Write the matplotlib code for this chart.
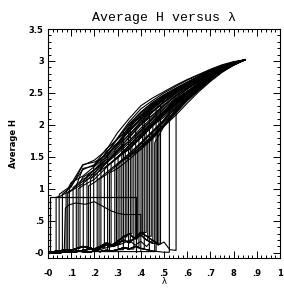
import numpy as np
import matplotlib
matplotlib.use("Agg")
import matplotlib.pyplot as plt
from matplotlib.ticker import MultipleLocator, FixedLocator

# lambda grid for the upper (ordered) branches
lam_grid = [0.05, 0.10, 0.15, 0.20, 0.25, 0.30, 0.35, 0.40, 0.45,
            0.50, 0.55, 0.60, 0.65, 0.70, 0.75, 0.80, 0.85]

# where each run collapses, and H at the top of the collapse
lam_drop = [0.035, 0.048, 0.062, 0.078, 0.092, 0.108, 0.122, 0.138, 0.152,
            0.168, 0.183, 0.197, 0.212, 0.228, 0.243, 0.257, 0.272, 0.288,
            0.302, 0.318, 0.333, 0.347, 0.362, 0.378, 0.392, 0.408, 0.423,
            0.437, 0.452, 0.466, 0.478, 0.523, 0.552,
            0.085, 0.130, 0.175, 0.220, 0.265, 0.295, 0.310, 0.325, 0.340,
            0.355, 0.370, 0.385, 0.401, 0.415, 0.430, 0.445, 0.460, 0.472, 0.485]
h_drop = [0.87, 0.90, 0.92, 0.95, 1.00, 1.02, 1.05, 1.10, 1.12,
          1.20, 1.15, 1.35, 1.25, 1.45, 1.30, 1.55, 1.40, 1.62,
          1.50, 1.75, 1.60, 1.85, 1.70, 1.95, 1.80, 2.05, 1.90,
          2.20, 2.00, 2.25, 2.10, 2.30, 2.38,
          0.93, 1.00, 1.05, 1.15, 1.25, 1.35, 1.42, 1.90, 1.45,
          2.00, 1.55, 1.62, 1.68, 2.15, 1.75, 1.85, 1.72, 1.95, 2.30]

# H of each run on the last points of lam_grid (ending at 0.85)
h_upper = [
    [0.88, 0.98, 1.12, 1.30, 1.45, 1.62, 1.80, 2.00, 2.15, 2.30, 2.45, 2.58, 2.70, 2.80, 2.90, 2.97, 3.02],
    [0.92, 1.05, 1.30, 1.38, 1.55, 1.80, 2.05, 2.25, 2.38, 2.50, 2.60, 2.70, 2.78, 2.86, 2.93, 2.98, 3.02],
    [1.03, 1.37, 1.45, 1.60, 1.88, 2.10, 2.30, 2.42, 2.52, 2.62, 2.71, 2.79, 2.87, 2.94, 2.99, 3.02],
    [1.10, 1.20, 1.35, 1.50, 1.70, 1.95, 2.15, 2.30, 2.45, 2.56, 2.66, 2.75, 2.84, 2.92, 2.97, 3.02],
    [1.08, 1.38, 1.42, 1.52, 1.72, 1.90, 2.10, 2.28, 2.42, 2.55, 2.65, 2.74, 2.83, 2.91, 2.97, 3.02],
    [1.15, 1.25, 1.48, 1.65, 1.85, 2.05, 2.25, 2.40, 2.52, 2.63, 2.73, 2.82, 2.90, 2.96, 3.02],
    [1.32, 1.36, 1.55, 1.78, 2.02, 2.20, 2.35, 2.47, 2.57, 2.67, 2.76, 2.85, 2.92, 2.98, 3.02],
    [1.18, 1.30, 1.42, 1.60, 1.75, 1.95, 2.12, 2.30, 2.45, 2.58, 2.70, 2.80, 2.89, 2.96, 3.02],
    [1.20, 1.40, 1.58, 1.82, 2.00, 2.20, 2.36, 2.50, 2.62, 2.72, 2.81, 2.90, 2.96, 3.02],
    [1.30, 1.50, 1.70, 1.90, 2.10, 2.28, 2.42, 2.55, 2.66, 2.75, 2.84, 2.91, 2.97, 3.02],
    [1.22, 1.35, 1.50, 1.68, 1.85, 2.02, 2.20, 2.38, 2.52, 2.64, 2.76, 2.87, 2.95, 3.02],
    [1.38, 1.62, 1.78, 1.95, 2.15, 2.32, 2.45, 2.56, 2.66, 2.75, 2.84, 2.91, 2.97, 3.02],
    [1.40, 1.55, 1.72, 1.90, 2.08, 2.25, 2.40, 2.53, 2.65, 2.76, 2.86, 2.95, 3.02],
    [1.58, 1.72, 1.98, 2.18, 2.33, 2.46, 2.57, 2.67, 2.76, 2.85, 2.92, 2.97, 3.02],
    [1.35, 1.48, 1.65, 1.82, 2.00, 2.18, 2.35, 2.50, 2.63, 2.75, 2.86, 2.95, 3.02],
    [1.70, 1.92, 2.10, 2.28, 2.42, 2.54, 2.65, 2.74, 2.83, 2.91, 2.97, 3.02],
    [1.50, 1.68, 1.88, 2.05, 2.22, 2.38, 2.52, 2.64, 2.76, 2.86, 2.95, 3.02],
    [1.68, 1.85, 2.02, 2.20, 2.36, 2.50, 2.62, 2.73, 2.83, 2.91, 2.97, 3.02],
    [1.62, 1.80, 1.98, 2.15, 2.32, 2.47, 2.60, 2.72, 2.83, 2.93, 3.02],
    [1.95, 2.15, 2.30, 2.42, 2.53, 2.63, 2.72, 2.81, 2.89, 2.96, 3.02],
    [1.68, 1.85, 2.05, 2.22, 2.38, 2.52, 2.64, 2.75, 2.85, 2.94, 3.02],
    [1.90, 2.08, 2.25, 2.40, 2.52, 2.62, 2.72, 2.81, 2.89, 2.96, 3.02],
    [1.80, 1.98, 2.16, 2.33, 2.48, 2.62, 2.74, 2.85, 2.94, 3.02],
    [2.05, 2.22, 2.37, 2.50, 2.61, 2.71, 2.80, 2.88, 2.95, 3.02],
    [1.85, 2.02, 2.20, 2.36, 2.50, 2.63, 2.75, 2.86, 2.95, 3.02],
    [2.15, 2.32, 2.46, 2.58, 2.69, 2.79, 2.88, 2.95, 3.02],
    [2.00, 2.18, 2.35, 2.50, 2.63, 2.75, 2.86, 2.95, 3.02],
    [2.28, 2.42, 2.54, 2.65, 2.75, 2.84, 2.91, 2.97, 3.02],
    [2.12, 2.30, 2.47, 2.61, 2.74, 2.86, 2.95, 3.02],
    [2.35, 2.48, 2.60, 2.70, 2.80, 2.88, 2.95, 3.02],
    [2.20, 2.36, 2.52, 2.65, 2.77, 2.87, 2.95, 3.02],
    [2.42, 2.56, 2.68, 2.78, 2.87, 2.95, 3.02],
    [2.52, 2.66, 2.77, 2.87, 2.95, 3.02],
    [0.97, 1.08, 1.25, 1.42, 1.58, 1.75, 1.92, 2.10, 2.27, 2.42, 2.56, 2.68, 2.79, 2.88, 2.95, 3.02],
    [1.05, 1.15, 1.33, 1.50, 1.62, 1.80, 2.00, 2.18, 2.35, 2.50, 2.63, 2.75, 2.86, 2.95, 3.02],
    [1.10, 1.25, 1.40, 1.55, 1.72, 1.90, 2.08, 2.26, 2.42, 2.58, 2.72, 2.85, 2.95, 3.02],
    [1.22, 1.38, 1.52, 1.70, 1.88, 2.05, 2.22, 2.40, 2.56, 2.70, 2.84, 2.94, 3.02],
    [1.32, 1.46, 1.62, 1.80, 1.98, 2.15, 2.34, 2.52, 2.68, 2.82, 2.94, 3.02],
    [1.38, 1.55, 1.72, 1.90, 2.08, 2.26, 2.44, 2.60, 2.74, 2.86, 2.95, 3.02],
    [1.50, 1.66, 1.84, 2.02, 2.22, 2.40, 2.56, 2.72, 2.85, 2.95, 3.02],
    [2.00, 2.20, 2.35, 2.47, 2.57, 2.66, 2.75, 2.83, 2.90, 2.96, 3.02],
    [1.52, 1.65, 1.80, 2.00, 2.20, 2.38, 2.54, 2.70, 2.84, 2.94, 3.02],
    [2.12, 2.30, 2.44, 2.55, 2.65, 2.74, 2.83, 2.90, 2.96, 3.02],
    [1.62, 1.78, 1.98, 2.18, 2.38, 2.55, 2.70, 2.84, 2.94, 3.02],
    [1.66, 1.82, 2.00, 2.20, 2.40, 2.57, 2.72, 2.85, 2.95, 3.02],
    [1.80, 1.98, 2.20, 2.42, 2.60, 2.74, 2.86, 2.95, 3.02],
    [2.25, 2.40, 2.52, 2.63, 2.73, 2.82, 2.90, 2.96, 3.02],
    [1.82, 2.00, 2.22, 2.45, 2.62, 2.76, 2.87, 2.95, 3.02],
    [1.88, 2.06, 2.28, 2.48, 2.64, 2.77, 2.88, 2.96, 3.02],
    [1.98, 2.25, 2.47, 2.63, 2.76, 2.87, 2.95, 3.02],
    [2.08, 2.32, 2.52, 2.66, 2.78, 2.88, 2.96, 3.02],
    [2.40, 2.52, 2.62, 2.72, 2.81, 2.89, 2.96, 3.02],
]

# disordered branches near H = 0
lam_base = [0.0, 0.025, 0.05, 0.075, 0.10, 0.125, 0.15, 0.175, 0.20, 0.225, 0.25, 0.275,
            0.30, 0.325, 0.35, 0.375, 0.40, 0.425, 0.45, 0.475, 0.50, 0.525, 0.55]
base_a = [0.00, 0.01, 0.00, 0.02, 0.01, 0.03, 0.02, 0.01, 0.03, 0.02, 0.04, 0.03,
          0.05, 0.08, 0.06, 0.10, 0.07, 0.05, 0.03, 0.02, 0.01, 0.02, 0.00]
base_b = [0.02, 0.02, 0.03, 0.05, 0.04, 0.07, 0.10, 0.08, 0.06, 0.10, 0.15, 0.12,
          0.18, 0.25, 0.30, 0.22, 0.28, 0.20, 0.15, 0.10, 0.06, 0.04, 0.03]
base_c = [0.00, 0.00, 0.01, 0.01, 0.02, 0.02, 0.04, 0.06, 0.05, 0.08, 0.12, 0.10,
          0.14, 0.20, 0.16, 0.24, 0.32, 0.26, 0.20, 0.14, 0.10, 0.06, 0.04]
base_d = [0.02, 0.02, 0.02, 0.02, 0.02, 0.02, 0.02, 0.02, 0.02, 0.02, 0.02, 0.02,
          0.02, 0.02, 0.02, 0.02, 0.02, 0.02, 0.02, 0.02, 0.02, 0.02, 0.02]
base_e = [0.00, 0.01, 0.02, 0.01, 0.03, 0.02, 0.04, 0.05, 0.06, 0.05, 0.08, 0.10,
          0.12, 0.15, 0.20, 0.12, 0.18, 0.10, 0.20, 0.12, 0.17, 0.05, 0.04]
base_of_run = "abcabcabcabcabcabcabcabcabcabdcae" + "cabcabcabcabcabcabc"

# run stuck at intermediate H, and the flat run at H ~ 0.87
mid_lam = [0.0, 0.07, 0.075, 0.09, 0.12, 0.16, 0.20, 0.24, 0.27, 0.30, 0.33, 0.36, 0.40, 0.40]
mid_h = [0.02, 0.02, 0.70, 0.75, 0.78, 0.76, 0.80, 0.72, 0.66, 0.62, 0.60, 0.60, 0.60, 0.03]
flat_lam = [0.0, 0.01, 0.01, 0.38, 0.38]
flat_h = [0.0, 0.0, 0.87, 0.87, 0.02]

bases = {"a": base_a, "b": base_b, "c": base_c, "d": base_d, "e": base_e}

fig = plt.figure(figsize=(2.84, 2.88), dpi=100)
ax = fig.add_axes([48/284, 1-258/288, 232/284, 229/288])

lw = 0.8
for i in range(len(lam_drop)):
    lc = lam_drop[i]
    b = bases[base_of_run[i]]
    xs = [l for l in lam_base if l < lc]
    ys = b[:len(xs)]
    up = h_upper[i]
    x = xs + [lc, lc] + lam_grid[-len(up):]
    y = ys + [ys[-1], h_drop[i]] + up
    ax.plot(x, y, color="black", lw=lw)

ax.plot(mid_lam, mid_h, color="black", lw=lw)
ax.plot(flat_lam, flat_h, color="black", lw=0.9)

ax.set_xlim(0, 1)
ax.set_ylim(-0.08, 3.5)

ax.xaxis.set_major_locator(FixedLocator([0, .1, .2, .3, .4, .5, .6, .7, .8, .9, 1]))
ax.set_xticklabels(["-0", ".1", ".2", ".3", ".4", ".5", ".6", ".7", "8", ".9", "1"])
ax.yaxis.set_major_locator(FixedLocator([0, .5, 1, 1.5, 2, 2.5, 3, 3.5]))
ax.set_yticklabels(["-0", ".5", "1", "1.5", "2", "2.5", "3", "3.5"])
ax.xaxis.set_minor_locator(MultipleLocator(0.02))
ax.yaxis.set_minor_locator(MultipleLocator(0.1))
ax.tick_params(which="both", direction="in", top=True, right=True, width=0.7)
ax.tick_params(which="major", length=5)
ax.tick_params(which="minor", length=2.5)
ax.tick_params(axis="x", which="major", pad=8)
ax.tick_params(axis="y", which="major", pad=3)
for t in ax.get_xticklabels() + ax.get_yticklabels():
    t.set_fontsize(6)
    t.set_fontweight("bold")
for s in ax.spines.values():
    s.set_linewidth(0.8)

ax.set_title("Average H versus λ", family="Liberation Mono", fontsize=9.5, pad=6)
ax.set_xlabel("λ", fontsize=6)
ax.xaxis.set_label_coords(0.5, -0.083)
ax.set_ylabel("Average H", fontsize=6, fontweight="bold", labelpad=8)

fig.savefig("out.png", dpi=100)
